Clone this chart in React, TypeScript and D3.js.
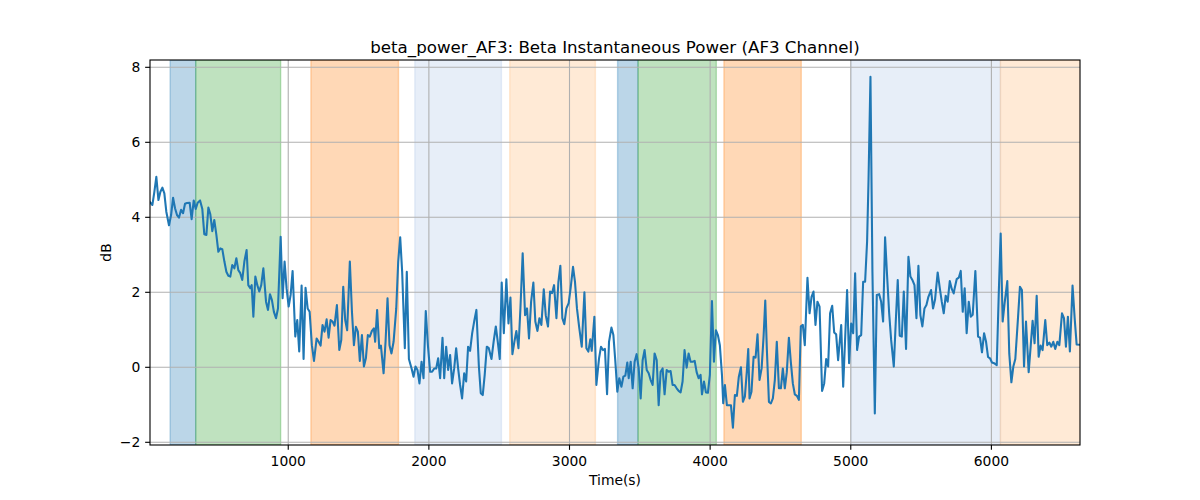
import React from "react";
import * as d3 from "d3";

const time: number[] = [
  17, 34, 48, 62, 77, 91, 105, 119, 133, 152, 167, 181, 195, 209, 223, 238, 252, 266, 280, 299,
  313, 328, 342, 356, 373, 389, 403, 418, 432, 446, 460, 474, 489, 503, 517, 531, 546, 560, 574, 588,
  602, 617, 631, 645, 659, 673, 688, 704, 716, 730, 740, 752, 766, 780, 794, 808, 823,
  842, 856, 870, 884, 898, 913, 927, 946, 960, 974, 988, 1003, 1017, 1031, 1050, 1064, 1078, 1095, 1109, 1123,
  1138, 1152, 1168, 1183, 1202, 1216, 1230, 1244, 1258, 1273, 1287, 1301, 1315, 1329, 1346, 1363, 1377, 1391, 1405,
  1419, 1438, 1453, 1467, 1481, 1495, 1509, 1524, 1538, 1552, 1566, 1580, 1595, 1609, 1618, 1632, 1647,
  1659, 1678, 1692, 1706, 1720, 1734, 1749, 1768, 1782, 1796, 1810, 1829, 1843, 1858, 1877, 1891, 1905, 1919, 1933,
  1948, 1962, 1978, 1993, 2009, 2023, 2038, 2052, 2066, 2080, 2097, 2109, 2123, 2137, 2151, 2165, 2180, 2194, 2208,
  2222, 2236, 2251, 2265, 2279, 2293, 2308, 2322, 2338, 2355, 2369, 2383, 2397, 2412, 2426, 2445,
  2461, 2476, 2490, 2504, 2518, 2533, 2551, 2566, 2580, 2594, 2608, 2622, 2637, 2651, 2667, 2684, 2698, 2712, 2727,
  2743, 2757, 2772, 2786, 2800, 2817, 2831, 2847, 2862, 2876, 2890, 2907, 2921, 2935, 2949, 2963, 2978, 2994, 3008,
  3025, 3039, 3053, 3068, 3087, 3106, 3120, 3134, 3148, 3158, 3177, 3191, 3210, 3224, 3238, 3252, 3267, 3281,
  3298, 3312, 3326, 3340, 3354, 3369, 3383, 3397, 3411, 3421, 3435, 3449, 3463, 3477, 3492, 3506, 3520, 3534, 3549,
  3563, 3577, 3591, 3605, 3620, 3634, 3648, 3662, 3676, 3691, 3705, 3719, 3733, 3747, 3762, 3776, 3790, 3804, 3818,
  3833, 3847, 3861, 3875, 3890, 3904, 3918, 3932, 3942, 3956, 3970, 3984, 3998, 4013, 4027, 4041, 4055, 4069, 4084, 4093,
  4105, 4119, 4133, 4148, 4162, 4176, 4190, 4204, 4219, 4233, 4247, 4261, 4271, 4280, 4294, 4309, 4323, 4337, 4351,
  4366, 4380, 4392, 4403, 4418, 4432, 4446, 4460, 4474, 4489, 4503, 4517, 4531, 4545, 4560, 4574, 4588, 4602, 4617,
  4631, 4645, 4659, 4673, 4692, 4707, 4721, 4735, 4749, 4763, 4778, 4796, 4811, 4825, 4839, 4853, 4868, 4882, 4896, 4910,
  4932, 4946, 4960, 4974, 4988, 5003, 5017, 5031, 5045, 5059, 5074, 5088, 5102, 5116, 5126, 5140, 5154, 5171, 5185,
  5202, 5216, 5230, 5244, 5258, 5273, 5287, 5306, 5320, 5334, 5348, 5363, 5377, 5393, 5410, 5424, 5438, 5453, 5467,
  5481, 5495, 5509, 5524, 5538, 5552, 5571, 5585, 5599, 5618, 5633, 5647, 5661, 5675, 5689, 5704, 5718, 5732,
  5739, 5753, 5768, 5782, 5796, 5810, 5824, 5839, 5853, 5867, 5886, 5905, 5919, 5933, 5948, 5962, 5976, 5990, 6004,
  6019, 6038, 6052, 6066, 6080, 6094, 6113, 6127, 6142, 6156, 6170, 6189, 6203, 6217, 6232, 6246, 6265, 6279, 6293,
  6307, 6322, 6336, 6350, 6364, 6383, 6397, 6412, 6426, 6440, 6454, 6469, 6483, 6502, 6516, 6530, 6544, 6558, 6577,
  6592, 6606, 6630,
];

const db: number[] = [
  4.40, 4.33, 4.68, 5.08, 4.46, 4.68, 4.79, 4.64, 4.15, 3.79, 4.06, 4.52, 4.24, 4.06, 3.99, 4.20, 4.11, 4.36, 4.38, 4.39,
  3.95, 4.45, 4.22, 4.39, 4.45, 4.22, 3.55, 3.53, 4.26, 4.08, 3.63, 3.93, 3.53, 3.08, 3.17, 3.15, 2.82, 2.55, 2.44, 2.42,
  2.73, 2.64, 2.91, 2.59, 2.51, 2.33, 2.82, 3.13, 2.19, 2.11, 2.19, 1.35, 2.42, 2.19, 2.02, 2.19, 2.64,
  1.75, 1.53, 1.95, 1.79, 1.48, 1.31, 1.57, 3.48, 1.84, 2.82, 2.11, 1.62, 1.93, 2.57, 0.82, 1.26, 0.42, 2.18, 0.22, 2.12,
  1.57, 1.48, 0.59, 0.17, 0.77, 0.68, 0.58, 1.13, 0.95, 1.28, 0.79, 1.26, 1.22, 1.11, 1.66, 0.46, 0.73, 2.15, 1.26,
  0.99, 2.82, 1.48, 0.59, 1.08, 0.95, 0.17, 0.86, 0.02, 0.24, 0.86, 0.82, 0.97, 1.04, 0.68, 1.53, 0.51,
  0.58, -0.16, 0.68, 1.84, 0.59, 0.37, 0.68, 1.57, 2.82, 3.47, 2.55, 0.51, 2.55, 0.22, -0.03, -0.25, 0.02, -0.07, -0.43,
  0.15, -0.29, 1.50, 0.59, -0.12, -0.12, -0.03, -0.03, 0.24, -0.29, 0.79, -0.29, 0.55, -0.07, 0.33, -0.43, -0.03, 0.51, -0.03,
  -0.47, -0.83, -0.16, -0.38, 0.55, 0.44, 0.91, 1.22, 1.53, 0.06, -0.69, -0.74, -0.20, 0.55, 0.51, 0.22,
  0.70, 1.09, 0.68, 0.22, 2.26, 0.91, 2.35, 1.17, 1.86, 0.35, 0.68, 0.97, 0.51, 1.57, 3.04, 1.39, 1.57, 0.77, 1.75,
  2.26, 1.22, 0.97, 1.31, 1.13, 2.08, 1.39, 1.09, 2.02, 1.98, 2.19, 1.31, 2.28, 2.71, 1.31, 1.15, 1.57, 1.71, 2.11,
  2.68, 2.28, 1.57, 1.09, 0.55, 2.00, 0.51, 0.42, 0.75, 0.44, 1.35, -0.47, 0.24, 0.55, 0.46, 0.49, -0.72, 0.68,
  1.06, 0.86, 0.15, -0.65, -0.29, -0.52, -0.25, -0.22, 0.13, -0.29, 0.15, -0.56, 0.15, 0.35, -0.03, -0.83, 0.19, 0.46, -0.07,
  -0.16, -0.34, -0.47, 0.37, 0.19, -1.01, -0.12, -0.03, -0.72, -0.07, -0.12, -0.10, -0.47, -0.47, -0.56, -0.63, -0.67, -0.38, 0.46,
  -0.01, 0.37, 0.15, 0.15, 0.17, -0.13, -0.29, -0.20, -0.72, -0.38, -0.67, -0.68, -0.20, 1.77, 0.15, 0.99, 0.86, 0.59, -0.20, -0.96,
  -0.47, -1.01, -1.01, -1.01, -1.61, -0.74, -0.76, -0.25, 0.00, -0.92, -0.78, -0.10, 0.49, -0.83, -0.65, 0.28, 0.26, 0.88, -0.34,
  -0.03, 0.82, 1.78, 0.51, -0.92, -0.96, -0.83, -0.34, 0.68, -0.56, -0.56, -0.03, -0.56, -0.13, 0.79, 0.13, -0.43, -0.72, -0.76,
  -0.87, 1.09, 1.13, 0.59, 2.39, 1.44, 1.88, 2.02, 1.13, 1.75, 1.62, -0.63, -0.43, 0.22, 0.02, 1.44, 1.64, 0.93, 0.88, 0.19,
  1.13, -0.52, 0.77, 2.06, 0.11, 1.17, 0.91, 2.51, 0.46, 0.82, 0.86, 2.28, 2.28, 3.35, 4.95, 7.75, 2.55, -1.23, 1.93,
  1.95, 1.75, 1.22, 3.47, 2.46, 1.44, 0.73, 0.02, 1.22, 2.33, 0.84, 0.82, 2.02, 0.49, 2.95, 2.42, 2.33, 2.19, 1.31,
  2.71, 1.39, 1.09, 1.57, 1.66, 1.88, 2.06, 1.57, 1.80, 2.53, 2.11, 1.75, 1.44, 1.91, 1.75, 2.30, 2.09, 1.97,
  2.11, 2.35, 2.39, 2.57, 1.48, 2.11, 0.91, 1.75, 1.35, 1.40, 2.57, 0.82, 0.79, 0.40, 0.91, 0.68, 0.28, 0.24, 0.13,
  0.11, 0.06, 1.93, 3.57, 1.22, 1.71, 2.30, 0.37, -0.40, 0.02, 0.22, 1.31, 2.15, 2.06, 0.02, 1.22, -0.13, 0.55, 1.24,
  0.64, 1.91, 0.28, 0.58, 0.46, 1.26, 0.59, 0.66, 0.55, 0.68, 0.49, 0.68, 0.59, 1.44, 1.31, 0.55, 1.35, 0.42, 2.18,
  1.31, 0.61, 0.60,
];

const spanStart: number[] = [160, 342, 1161, 1900, 2575, 3342, 3487, 4098, 5003, 6064];
const spanEnd: number[] = [342, 946, 1784, 2516, 3184, 3487, 4044, 4648, 6064, 6700];
const spanColor: string[] = [
  "#1f77b4", "#2ca02c", "#ff7f0e", "#aec7e8", "#ffbb78",
  "#1f77b4", "#2ca02c", "#ff7f0e", "#aec7e8", "#ffbb78",
];

const xTicks: number[] = [1000, 2000, 3000, 4000, 5000, 6000];
const yTicks: number[] = [-2, 0, 2, 4, 6, 8];
const xDomain: number[] = [17, 6630];
const yDomain: number[] = [-2.072, 8.195];

const title = "beta_power_AF3: Beta Instantaneous Power (AF3 Channel)";
const xLabel = "Time(s)";
const yLabel = "dB";

export default function App() {
  const W = 1200, H = 500;
  const L = 150, R = 1080, T = 60, B = 445;
  const x = d3.scaleLinear().domain(xDomain).range([L, R]);
  const y = d3.scaleLinear().domain(yDomain).range([B, T]);
  const pts = time.map((t, i) => [t, db[i]] as [number, number]);
  const line = d3.line<[number, number]>().x(d => x(d[0])).y(d => y(d[1]));
  const font = "'DejaVu Sans', sans-serif";
  const fmt = (v: number) => (v < 0 ? "\u2212" + Math.abs(v) : String(v));
  const tickLen = 4.86;
  const pt = 100 / 72;

  return (
    <svg width={W} height={H} style={{ position: "absolute", left: 0, top: 0, background: "#fff" }}
      fontFamily={font}>
      <defs>
        <clipPath id="plotclip">
          <rect x={L} y={T} width={R - L} height={B - T} />
        </clipPath>
      </defs>
      <rect x={0} y={0} width={W} height={H} fill="#fff" />
      <g clipPath="url(#plotclip)">
        {spanStart.map((s, i) => (
          <rect key={"s" + i} x={x(s)} y={T} width={x(spanEnd[i]) - x(s)} height={B - T}
            fill={spanColor[i]} fillOpacity={0.3} stroke={spanColor[i]} strokeOpacity={0.3} strokeWidth={1 * pt} />
        ))}
        {xTicks.map(t => (
          <line key={"gx" + t} x1={x(t)} x2={x(t)} y1={T} y2={B} stroke="#b0b0b0" strokeWidth={0.8 * pt} />
        ))}
        {yTicks.map(t => (
          <line key={"gy" + t} x1={L} x2={R} y1={y(t)} y2={y(t)} stroke="#b0b0b0" strokeWidth={0.8 * pt} />
        ))}
        <path d={line(pts) || ""} fill="none" stroke="#1f77b4" strokeWidth={1.5 * pt}
          strokeLinejoin="round" strokeLinecap="square" />
      </g>
      <rect x={L} y={T} width={R - L} height={B - T} fill="none" stroke="#000" strokeWidth={0.8 * pt} />
      {xTicks.map(t => (
        <g key={"tx" + t}>
          <line x1={x(t)} x2={x(t)} y1={B} y2={B + tickLen} stroke="#000" strokeWidth={0.8 * pt} />
          <text x={x(t)} y={466} textAnchor="middle" fontSize={13.89} fill="#000">{fmt(t)}</text>
        </g>
      ))}
      {yTicks.map(t => (
        <g key={"ty" + t}>
          <line x1={L - tickLen} x2={L} y1={y(t)} y2={y(t)} stroke="#000" strokeWidth={0.8 * pt} />
          <text x={L - 2 * tickLen} y={y(t)} dy="0.36em" textAnchor="end" fontSize={13.89} fill="#000">{fmt(t)}</text>
        </g>
      ))}
      <text x={(L + R) / 2} y={485} textAnchor="middle" fontSize={13.89} fill="#000">{xLabel}</text>
      <text transform={`translate(111, ${(T + B) / 2}) rotate(-90)`} textAnchor="middle" fontSize={13.89} fill="#000">{yLabel}</text>
      <text x={(L + R) / 2} y={52.5} textAnchor="middle" fontSize={16.67} fill="#000">{title}</text>
    </svg>
  );
}
